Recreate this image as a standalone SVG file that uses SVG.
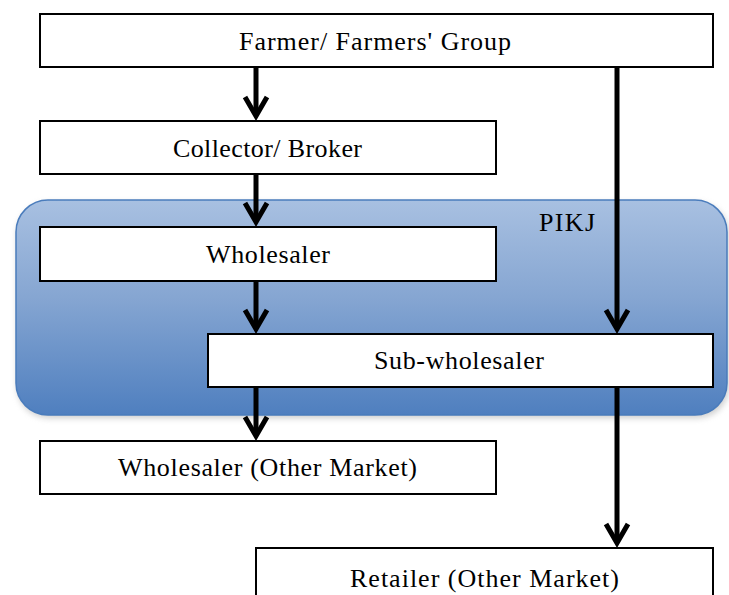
<svg xmlns="http://www.w3.org/2000/svg" width="729" height="595" viewBox="0 0 729 595">
<style>
.box{fill:#ffffff;stroke:#000000;stroke-width:2}
.lbl{font-size:26px;fill:#000000;text-anchor:middle}
.conn{stroke:#000000;stroke-width:5;fill:none}
</style>
<defs>
<linearGradient id="blueGrad" x1="0" y1="0" x2="0" y2="1">
<stop offset="0" stop-color="#a8c0e1"/>
<stop offset="0.45" stop-color="#86a6d2"/>
<stop offset="1" stop-color="#4f7fbf"/>
</linearGradient>
<filter id="shadow" x="-5%" y="-5%" width="110%" height="115%">
<feGaussianBlur stdDeviation="3"/>
</filter>
<marker id="chev" viewBox="-30 -20 40 40" refX="0" refY="0" markerWidth="40" markerHeight="40" markerUnits="userSpaceOnUse" orient="auto">
<path d="M-19,-11 L0,0 L-19,11" fill="none" stroke="#000000" stroke-width="5" stroke-linejoin="miter"/>
</marker>
</defs>

<g id="pikj">
<rect x="17" y="203" width="712" height="215" rx="32" ry="32" fill="#9a9a9a" opacity="0.5" filter="url(#shadow)"/>
<rect x="16" y="200" width="711" height="215" rx="32" ry="32" fill="url(#blueGrad)" stroke="#4a7cbc" stroke-width="1.5"/>
<text class="lbl" font-family="Liberation Serif, serif" x="567" y="231" textLength="56" lengthAdjust="spacing">PIKJ</text>
</g>

<g id="connectors">
<line class="conn" x1="256" y1="67" x2="256" y2="116" marker-end="url(#chev)"/>
<line class="conn" x1="256" y1="174" x2="256" y2="222" marker-end="url(#chev)"/>
<line class="conn" x1="256" y1="281" x2="256" y2="329" marker-end="url(#chev)"/>
<line class="conn" x1="256" y1="387" x2="256" y2="436" marker-end="url(#chev)"/>
<line class="conn" x1="617" y1="67" x2="617" y2="329" marker-end="url(#chev)"/>
<line class="conn" x1="617" y1="387" x2="617" y2="543" marker-end="url(#chev)"/>
</g>

<g id="farmer">
<rect class="box" x="40" y="14" width="673" height="53"/>
<text class="lbl" font-family="Liberation Serif, serif" x="375" y="50" textLength="272" lengthAdjust="spacing">Farmer/ Farmers' Group</text>
</g>

<g id="collector">
<rect class="box" x="40" y="121" width="456" height="53"/>
<text class="lbl" font-family="Liberation Serif, serif" x="267.5" y="157" textLength="189" lengthAdjust="spacing">Collector/ Broker</text>
</g>

<g id="wholesaler">
<rect class="box" x="40" y="227" width="456" height="54"/>
<text class="lbl" font-family="Liberation Serif, serif" x="268" y="263" textLength="124" lengthAdjust="spacing">Wholesaler</text>
</g>

<g id="subwholesaler">
<rect class="box" x="208" y="334" width="505" height="53"/>
<text class="lbl" font-family="Liberation Serif, serif" x="459" y="369" textLength="170" lengthAdjust="spacing">Sub-wholesaler</text>
</g>

<g id="wholesaler-other">
<rect class="box" x="40" y="441" width="456" height="53"/>
<text class="lbl" font-family="Liberation Serif, serif" x="267.5" y="476" textLength="299" lengthAdjust="spacing">Wholesaler (Other Market)</text>
</g>

<g id="retailer-other">
<rect class="box" x="256" y="548" width="457" height="60"/>
<text class="lbl" font-family="Liberation Serif, serif" x="484.5" y="587" textLength="269" lengthAdjust="spacing">Retailer (Other Market)</text>
</g>
</svg>
